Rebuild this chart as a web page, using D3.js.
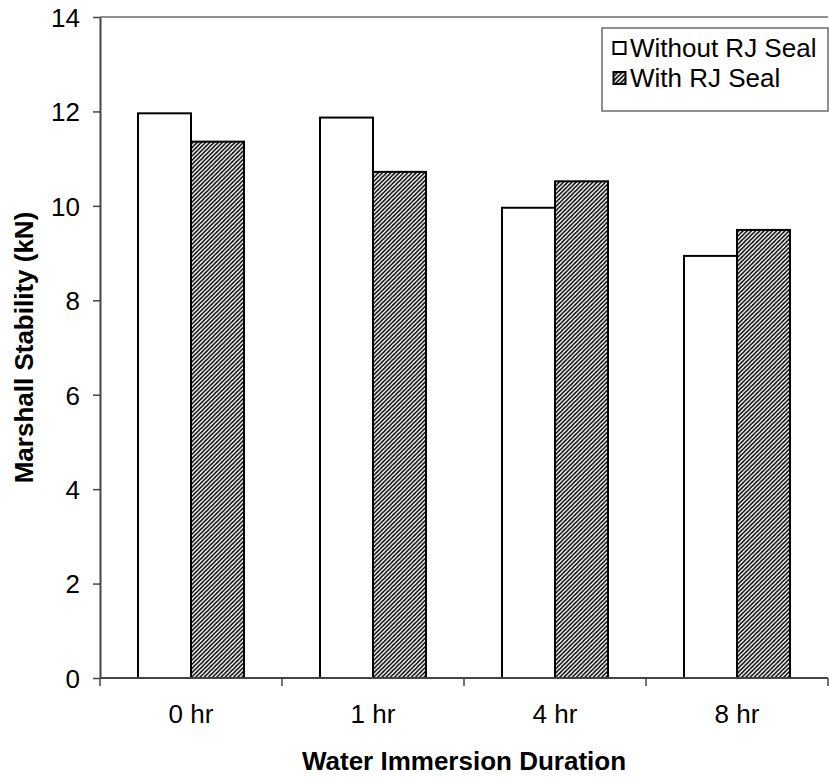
<!DOCTYPE html>
<html>
<head>
<meta charset="utf-8">
<script src="https://cdn.jsdelivr.net/npm/d3@7"></script>
<style>
  html, body { margin: 0; padding: 0; background: #fff; }
  svg text { font-family: "Liberation Sans", Arial, sans-serif; fill: #000; }
</style>
</head>
<body>
<svg id="chart" width="829" height="778"></svg>
<script>
// Marshall stability of mixes with and without RJ Seal after water immersion
const categories = ["0 hr", "1 hr", "4 hr", "8 hr"];
const seriesNames = ["Without RJ Seal", "With RJ Seal"];
const withoutSeal = [11.96, 11.87, 9.96, 8.94];
const withSeal = [11.36, 10.72, 10.52, 9.49];
const yTicks = [0, 2, 4, 6, 8, 10, 12, 14];

const svg = d3.select("#chart");
const margin = { left: 100, right: 1, top: 17, bottom: 100 };
const W = 829, H = 778;
const x0 = margin.left, x1 = W - margin.right;
const yTop = margin.top, yBot = H - margin.bottom;
const FS = 26;

// hatch patterns
const defs = svg.append("defs");
function hatch(id, size, sw) {
  const p = defs.append("pattern")
    .attr("id", id)
    .attr("patternUnits", "userSpaceOnUse")
    .attr("width", size).attr("height", size);
  p.append("rect").attr("width", size).attr("height", size).attr("fill", "#fff");
  p.append("path")
    .attr("d", `M${-size/2},${size/2} L${size/2},${-size/2} M0,${size} L${size},0 M${size/2},${size*1.5} L${size*1.5},${size/2}`)
    .attr("stroke", "#000").attr("stroke-width", sw);
}
hatch("hatchBar", 4.2, 1.5);
hatch("hatchKey", 4.5, 1.6);

const x = d3.scaleBand().domain(categories).range([x0, x1])
  .paddingInner(0.4176).paddingOuter(0.2088);
const xs = d3.scaleBand().domain(seriesNames).range([0, x.bandwidth()]);
const y = d3.scaleLinear().domain([0, 14]).range([yBot, yTop]);

const fills = { "Without RJ Seal": "#fff", "With RJ Seal": "url(#hatchBar)" };
const keyFills = { "Without RJ Seal": "#fff", "With RJ Seal": "url(#hatchKey)" };

// top frame line
svg.append("line")
  .attr("x1", x0).attr("x2", x1).attr("y1", y(14)).attr("y2", y(14))
  .attr("stroke", "#6b6b6b").attr("stroke-width", 1.5);

// bars
const rows = categories.map((c, i) => ({ cat: c, vals: [
  { s: seriesNames[0], v: withoutSeal[i] },
  { s: seriesNames[1], v: withSeal[i] }
]}));
const g = svg.append("g");
g.selectAll("g.cat").data(rows).join("g")
  .attr("class", "cat")
  .attr("transform", d => `translate(${x(d.cat)},0)`)
  .selectAll("rect").data(d => d.vals).join("rect")
  .attr("x", d => xs(d.s))
  .attr("width", xs.bandwidth())
  .attr("y", d => y(d.v))
  .attr("height", d => y(0) - y(d.v))
  .attr("fill", d => fills[d.s])
  .attr("stroke", "#000").attr("stroke-width", 2);

// y axis
const yAxis = svg.append("g")
  .attr("transform", `translate(${x0},0)`)
  .call(d3.axisLeft(y).tickValues(yTicks).tickSize(7).tickPadding(13).tickSizeOuter(0));
yAxis.select(".domain").attr("stroke", "#444").attr("stroke-width", 2);
yAxis.selectAll(".tick line").attr("stroke", "#444").attr("stroke-width", 1.5);
yAxis.selectAll(".tick text").attr("font-size", FS)
  .attr("font-family", "Liberation Sans, Arial, sans-serif").attr("dy", "0.36em");

// x axis with ticks at category boundaries
const boundaries = d3.range(categories.length + 1).map(i => x0 + i * x.step());
const xAxisG = svg.append("g");
xAxisG.append("line")
  .attr("x1", x0).attr("x2", x1).attr("y1", yBot).attr("y2", yBot)
  .attr("stroke", "#444").attr("stroke-width", 2);
xAxisG.selectAll("line.tk").data(boundaries).join("line")
  .attr("class", "tk")
  .attr("x1", d => d).attr("x2", d => d)
  .attr("y1", yBot).attr("y2", yBot + 8)
  .attr("stroke", "#444").attr("stroke-width", 1.5);
xAxisG.selectAll("text").data(categories).join("text")
  .attr("x", d => x(d) + x.bandwidth() / 2)
  .attr("y", yBot + 45)
  .attr("text-anchor", "middle")
  .attr("font-size", FS)
  .text(d => d);

// axis titles
svg.append("text")
  .attr("x", (x0 + x1) / 2).attr("y", 770)
  .attr("text-anchor", "middle")
  .attr("font-size", FS).attr("font-weight", "bold")
  .text("Water Immersion Duration");
svg.append("text")
  .attr("transform", `translate(33,${(yTop + yBot) / 2}) rotate(-90)`)
  .attr("text-anchor", "middle")
  .attr("font-size", FS).attr("font-weight", "bold")
  .text("Marshall Stability (kN)");

// legend
const lg = svg.append("g").attr("transform", "translate(602,28)");
lg.append("rect").attr("width", 226).attr("height", 83)
  .attr("fill", "#fff").attr("stroke", "#6b6b6b").attr("stroke-width", 1.5);
const items = lg.selectAll("g.item").data(seriesNames).join("g")
  .attr("class", "item")
  .attr("transform", (d, i) => `translate(0,${21 + i * 30})`);
items.append("rect")
  .attr("x", 11.5).attr("y", -7).attr("width", 12).attr("height", 12)
  .attr("fill", d => keyFills[d]).attr("stroke", "#000").attr("stroke-width", 2);
items.append("text")
  .attr("x", 28).attr("y", 8)
  .attr("font-size", FS)
  .text(d => d);
</script>
</body>
</html>
